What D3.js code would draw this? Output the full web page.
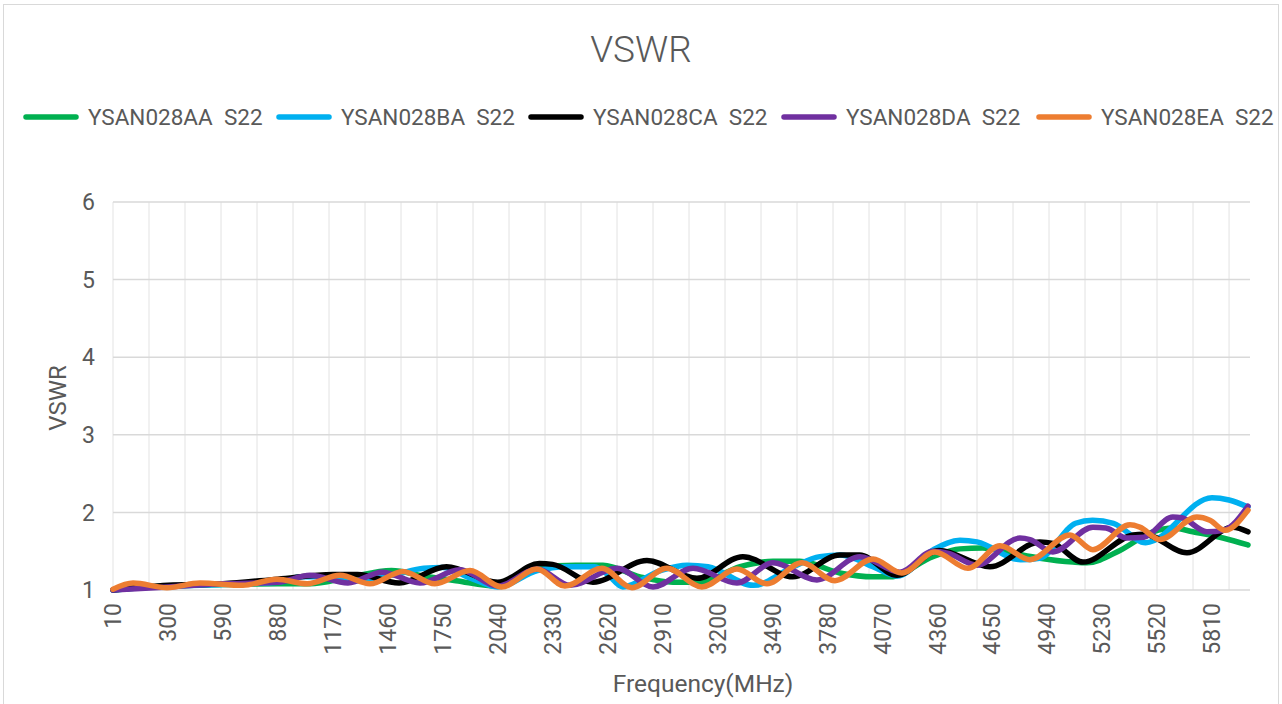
<!DOCTYPE html>
<html>
<head>
<meta charset="utf-8">
<script src="https://cdn.jsdelivr.net/npm/d3@7"></script>
<style>
  body { margin: 0; background: #fff; }
  text { font-family: "Roboto", "Liberation Sans", sans-serif; fill: #595959; }
</style>
</head>
<body>
<div id="chart"></div>
<script>
const width = 1282;
const height = 704;

// series names and colours
const seriesNames = ["YSAN028AA  S22", "YSAN028BA  S22", "YSAN028CA  S22", "YSAN028DA  S22", "YSAN028EA  S22"];
const seriesColors = ["#00b050", "#00b0f0", "#000000", "#7030a0", "#ed7d31"];

// values (frequency in MHz, VSWR)
const freqAA = [10, 300, 590, 880, 1050, 1250, 1480, 1650, 1820, 2040, 2263, 2450, 2596, 2791, 2965, 3108, 3319, 3493, 3635, 3846, 4021, 4110, 4337, 4480, 4600, 4727, 4902, 5076, 5150, 5324, 5498, 5604, 5709, 5868, 6000];
const vswrAA = [1.00, 1.05, 1.07, 1.08, 1.08, 1.16, 1.25, 1.18, 1.12, 1.05, 1.30, 1.32, 1.32, 1.17, 1.10, 1.10, 1.30, 1.37, 1.37, 1.22, 1.17, 1.17, 1.43, 1.53, 1.54, 1.49, 1.41, 1.36, 1.35, 1.51, 1.75, 1.80, 1.75, 1.67, 1.58];

const freqBA = [10, 300, 590, 880, 1000, 1100, 1300, 1500, 1650, 1750, 1900, 2040, 2250, 2400, 2550, 2620, 2700, 2900, 3040, 3150, 3390, 3600, 3740, 3850, 4020, 4150, 4340, 4480, 4570, 4800, 4900, 5090, 5180, 5290, 5460, 5810, 5900, 6000];
const vswrBA = [1.00, 1.05, 1.07, 1.10, 1.17, 1.17, 1.12, 1.20, 1.28, 1.29, 1.15, 1.04, 1.25, 1.30, 1.30, 1.20, 1.04, 1.25, 1.32, 1.30, 1.06, 1.30, 1.43, 1.45, 1.30, 1.18, 1.52, 1.64, 1.62, 1.39, 1.41, 1.86, 1.90, 1.86, 1.61, 2.19, 2.16, 2.07];

const freqCA = [10, 300, 590, 880, 1170, 1300, 1520, 1770, 2040, 2260, 2330, 2543, 2828, 3092, 3334, 3598, 3846, 3950, 4147, 4370, 4638, 4902, 4970, 5129, 5393, 5450, 5678, 5921, 6000];
const vswrCA = [1.00, 1.06, 1.08, 1.14, 1.20, 1.20, 1.09, 1.30, 1.10, 1.34, 1.33, 1.10, 1.38, 1.15, 1.43, 1.17, 1.45, 1.45, 1.19, 1.51, 1.30, 1.62, 1.60, 1.36, 1.71, 1.72, 1.48, 1.81, 1.75];

const freqDA = [10, 300, 590, 880, 1050, 1250, 1430, 1630, 1840, 2040, 2250, 2422, 2670, 2860, 3071, 3303, 3493, 3725, 3952, 4163, 4337, 4420, 4569, 4796, 4850, 4970, 5181, 5250, 5361, 5450, 5603, 5650, 5783, 5870, 6000];
const vswrDA = [1.00, 1.04, 1.08, 1.10, 1.19, 1.09, 1.23, 1.09, 1.26, 1.05, 1.27, 1.06, 1.28, 1.04, 1.28, 1.09, 1.35, 1.13, 1.43, 1.23, 1.50, 1.47, 1.32, 1.67, 1.65, 1.49, 1.81, 1.80, 1.67, 1.68, 1.94, 1.93, 1.75, 1.77, 2.08];

const freqEA = [10, 116, 295, 469, 696, 875, 1034, 1208, 1366, 1540, 1709, 1894, 2060, 2247, 2395, 2590, 2749, 2933, 3118, 3303, 3461, 3646, 3820, 4021, 4173, 4348, 4522, 4691, 4849, 5060, 5181, 5377, 5429, 5535, 5730, 5799, 5878, 6000];
const vswrEA = [1.01, 1.09, 1.03, 1.09, 1.06, 1.14, 1.08, 1.19, 1.08, 1.24, 1.08, 1.25, 1.04, 1.27, 1.05, 1.28, 1.03, 1.28, 1.04, 1.27, 1.08, 1.35, 1.12, 1.40, 1.22, 1.49, 1.28, 1.57, 1.39, 1.71, 1.52, 1.84, 1.81, 1.65, 1.94, 1.90, 1.77, 2.03];

const xTickLabels = [10, 300, 590, 880, 1170, 1460, 1750, 2040, 2330, 2620, 2910, 3200, 3490, 3780, 4070, 4360, 4650, 4940, 5230, 5520, 5810];
const xGridValues = [10, 200, 390, 580, 770, 960, 1150, 1340, 1530, 1720, 1910, 2100, 2290, 2480, 2670, 2860, 3050, 3240, 3430, 3620, 3810, 4000, 4190, 4380, 4570, 4760, 4950, 5140, 5330, 5520, 5710, 5900];
const yTicks = [1, 2, 3, 4, 5, 6];

const allFreq = [freqAA, freqBA, freqCA, freqDA, freqEA];
const allVswr = [vswrAA, vswrBA, vswrCA, vswrDA, vswrEA];

const svg = d3.select("#chart")
    .append("svg")
    .attr("width", width)
    .attr("height", height);

// chart border
svg.append("rect")
    .attr("x", 3.5).attr("y", 4.5)
    .attr("width", 1275).attr("height", 720)
    .attr("fill", "#fff")
    .attr("stroke", "#d9d9d9");

const x = d3.scaleLinear().domain([10, 6000]).range([113, 1248]);
const y = d3.scaleLinear().domain([1, 6]).range([590, 202]);

// vertical gridlines
svg.append("g")
    .selectAll("line")
    .data(xGridValues)
    .enter()
    .append("line")
    .attr("x1", d => x(d)).attr("x2", d => x(d))
    .attr("y1", y(6)).attr("y2", y(1))
    .attr("stroke", "#ececec")
    .attr("stroke-width", 1.5);

// horizontal gridlines
svg.append("g")
    .selectAll("line")
    .data(yTicks)
    .enter()
    .append("line")
    .attr("x1", x(10)).attr("x2", 1250)
    .attr("y1", d => y(d)).attr("y2", d => y(d))
    .attr("stroke", "#d9d9d9")
    .attr("stroke-width", 1.5);

// y tick labels
svg.append("g")
    .selectAll("text")
    .data(yTicks)
    .enter()
    .append("text")
    .attr("x", 95)
    .attr("y", d => y(d))
    .attr("dy", "0.36em")
    .attr("text-anchor", "end")
    .style("font-size", "23px")
    .text(d => d);

// x tick labels, rotated
svg.append("g")
    .selectAll("text")
    .data(xTickLabels)
    .enter()
    .append("text")
    .attr("transform", d => `translate(${x(d)}, 603) rotate(-90)`)
    .attr("dy", "0.36em")
    .attr("text-anchor", "end")
    .style("font-size", "23px")
    .text(d => d);

// axis titles
svg.append("text")
    .attr("x", 703).attr("y", 692)
    .attr("text-anchor", "middle")
    .style("font-size", "24.5px")
    .text("Frequency(MHz)");

svg.append("text")
    .attr("transform", "translate(57, 398) rotate(-90)")
    .attr("dy", "0.36em")
    .attr("text-anchor", "middle")
    .style("font-size", "24px")
    .text("VSWR");

// title
svg.append("text")
    .attr("x", 641).attr("y", 62)
    .attr("text-anchor", "middle")
    .style("font-size", "37px")
    .style("font-weight", 300)
    .text("VSWR");

// lines
const line = d3.line()
    .x(d => x(d[0]))
    .y(d => y(d[1]))
    .curve(d3.curveMonotoneX);

svg.append("g")
    .selectAll("path")
    .data(seriesNames.map((name, i) => allFreq[i].map((f, j) => [f, allVswr[i][j]])))
    .enter()
    .append("path")
    .attr("d", line)
    .attr("fill", "none")
    .attr("stroke", (d, i) => seriesColors[i])
    .attr("stroke-width", 5.5)
    .attr("stroke-linejoin", "round")
    .attr("stroke-linecap", "round");

// legend
const legendX = [24, 277, 529, 782, 1037];
const legend = svg.append("g")
    .selectAll("g")
    .data(seriesNames)
    .enter()
    .append("g")
    .attr("transform", (d, i) => `translate(${legendX[i]}, 117)`);

legend.append("line")
    .attr("x1", 2).attr("x2", 52)
    .attr("stroke", (d, i) => seriesColors[i])
    .attr("stroke-width", 5.5)
    .attr("stroke-linecap", "round");

legend.append("text")
    .attr("x", 64)
    .attr("dy", "0.36em")
    .style("font-size", "22.5px")
    .attr("xml:space", "preserve")
    .text(d => d);
</script>
</body>
</html>
